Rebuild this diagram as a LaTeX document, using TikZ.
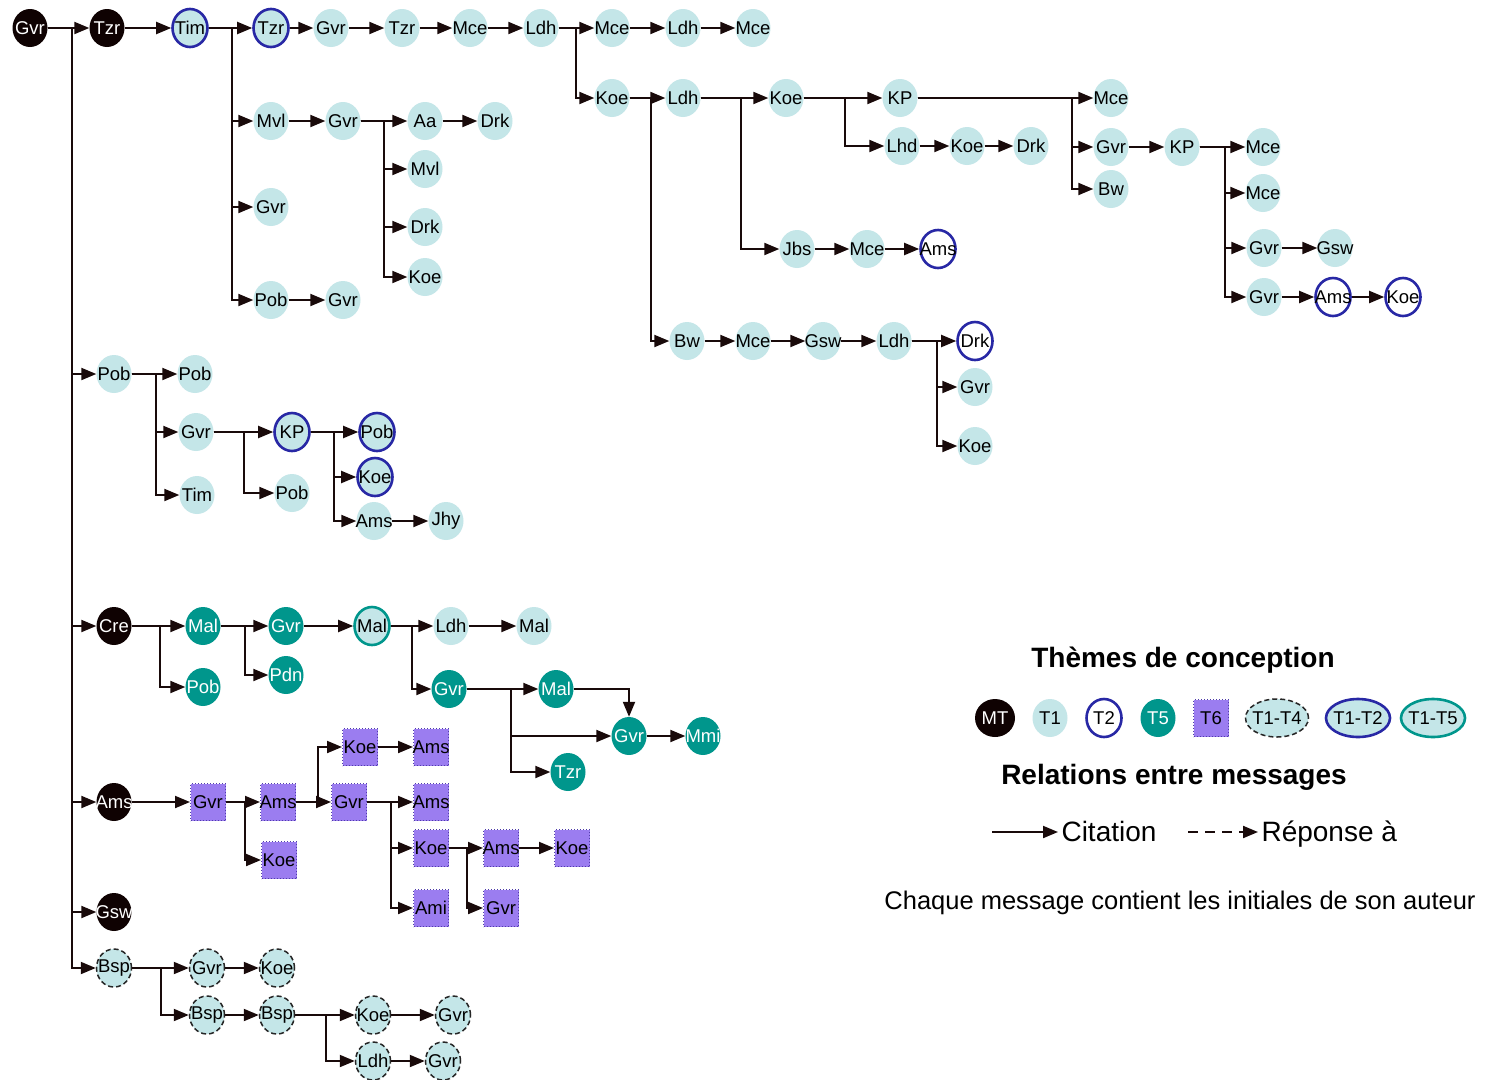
\documentclass[tikz,border=0pt]{standalone}
\usepackage{fontspec}
\setmainfont{Liberation Sans}
\usetikzlibrary{arrows.meta,shapes.geometric}
\definecolor{tonec}{RGB}{196,230,232}
\definecolor{bluec}{RGB}{40,40,165}
\definecolor{tealc}{RGB}{0,150,140}
\definecolor{purplec}{RGB}{155,125,240}
\definecolor{purpled}{RGB}{80,60,170}
\definecolor{mtc}{RGB}{15,2,2}
\definecolor{linec}{RGB}{25,10,10}
\newcommand\mynodefont{\fontsize{18.5}{20}\selectfont}
\newcommand\mybranch[3]{\draw[arr] (#1.east) -- (#1.east -| #2) |- (#3.west);}
\newcommand\mylink[2]{\draw[arr] (#1) -- (#2);}
\tikzset{
  base/.style={ellipse, minimum width=35pt, minimum height=38pt, inner xsep=-12pt, inner ysep=-8pt, font=\mynodefont},
  mt/.style={base, fill=mtc, text=white},
  tone/.style={base, fill=tonec},
  ttwo/.style={base, fill=white, draw=bluec, line width=2.6pt},
  tonetwo/.style={base, fill=tonec, draw=bluec, line width=2.6pt},
  tfive/.style={base, fill=tealc, text=white},
  tonefive/.style={base, fill=tonec, draw=tealc, line width=2.6pt},
  tonefour/.style={base, fill=tonec, draw=black!85, dash pattern=on 5pt off 3pt, line width=1.5pt},
  tsix/.style={rectangle, minimum width=35pt, minimum height=37pt, inner xsep=-3pt, inner ysep=0pt, fill=purplec, draw=purpled, dotted, line width=1pt, font=\mynodefont},
  arr/.style={line width=2pt, draw=linec, -{Triangle[length=15pt,width=12pt]}},
  legtitle/.style={font=\bfseries\fontsize{28}{30}\selectfont},
  legtext/.style={font=\fontsize{28}{30}\selectfont, anchor=base west},
}
\begin{document}
\begin{tikzpicture}[x=1pt,y=-1pt]
\useasboundingbox (0,0) rectangle (1487,1079);
\fill[white] (0,0) rectangle (1487,1079);
% junction coordinates (x only matters)
\coordinate (jT) at (72,0);
\coordinate (jA) at (232,0);
\coordinate (jB) at (384,0);
\coordinate (jC) at (576,0);
\coordinate (jD) at (651,0);
\coordinate (jE) at (741,0);
\coordinate (jF) at (845,0);
\coordinate (jG) at (1072,0);
\coordinate (jH) at (1225,0);
\coordinate (jI) at (937,0);
\coordinate (jJ) at (156,0);
\coordinate (jK) at (244,0);
\coordinate (jL) at (334,0);
\coordinate (jM) at (160,0);
\coordinate (jN) at (245,0);
\coordinate (jO) at (412,0);
\coordinate (jP) at (511,0);
\coordinate (jQ) at (245,0);
\coordinate (jR) at (318,0);
\coordinate (jS) at (391,0);
\coordinate (jU) at (467,0);
\coordinate (jV) at (161,0);
\coordinate (jW) at (326,0);

% row 1
\node[mt] (gvr0) at (30,28) {Gvr};
\node[mt] (tzr0) at (107,28) {Tzr};
\node[tonetwo] (tim0) at (190,28) {Tim};
\node[tonetwo] (tzr1) at (271,28) {Tzr};
\node[tone] (gvr1) at (331,28) {Gvr};
\node[tone] (tzr2) at (402,28) {Tzr};
\node[tone] (mce1) at (470,28) {Mce};
\node[tone] (ldh1) at (541,28) {Ldh};
\node[tone] (mce2) at (612,28) {Mce};
\node[tone] (ldh2) at (683,28) {Ldh};
\node[tone] (mce3) at (753,28) {Mce};
% Tim branch
\node[tone] (mvl1) at (271,121) {Mvl};
\node[tone] (gvr2) at (271,207) {Gvr};
\node[tone] (pob1) at (271,300) {Pob};
\node[tone] (gvr3) at (343,121) {Gvr};
\node[tone] (gvr4) at (343,300) {Gvr};
\node[tone] (aa1) at (425,121) {Aa};
\node[tone] (drk1) at (495,121) {Drk};
\node[tone] (mvl2) at (425,169) {Mvl};
\node[tone] (drk2) at (425,227) {Drk};
\node[tone] (koe1) at (425,277) {Koe};
% Koe branch
\node[tone] (koe2) at (612,98) {Koe};
\node[tone] (ldh3) at (683,98) {Ldh};
\node[tone] (koe3) at (786,98) {Koe};
\node[tone] (kp1) at (900,98) {KP};
\node[tone] (lhd1) at (902,146) {Lhd};
\node[tone] (koe4) at (967,146) {Koe};
\node[tone] (drk3) at (1031,146) {Drk};
\node[tone] (mce4) at (1111,98) {Mce};
\node[tone] (gvr5) at (1111,147) {Gvr};
\node[tone] (bw2) at (1111,189) {Bw};
\node[tone] (kp2) at (1182,147) {KP};
\node[tone] (mce5) at (1263,147) {Mce};
\node[tone] (mce6) at (1263,193) {Mce};
\node[tone] (gvr6) at (1264,248) {Gvr};
\node[tone] (gvr7) at (1264,297) {Gvr};
\node[tone] (gsw1) at (1335,248) {Gsw};
\node[ttwo] (ams1) at (1333,297) {Ams};
\node[ttwo] (koe5) at (1403,297) {Koe};
\node[tone] (jbs1) at (797,249) {Jbs};
\node[tone] (mce7) at (867,249) {Mce};
\node[ttwo] (ams2) at (938,249) {Ams};
\node[tone] (bw1) at (687,341) {Bw};
\node[tone] (mce8) at (753,341) {Mce};
\node[tone] (gsw2) at (823,341) {Gsw};
\node[tone] (ldh4) at (894,341) {Ldh};
\node[ttwo] (drk4) at (975,341) {Drk};
\node[tone] (gvr8) at (975,387) {Gvr};
\node[tone] (koe6) at (975,446) {Koe};
% Pob section
\node[tone] (pob2) at (114,374) {Pob};
\node[tone] (pob3) at (195,374) {Pob};
\node[tone] (gvr9) at (196,432) {Gvr};
\node[tone] (tim1) at (197,495) {Tim};
\node[tonetwo] (kp3) at (292,432) {KP};
\node[tone] (pob4) at (292,493) {Pob};
\node[tonetwo] (pob5) at (377,432) {Pob};
\node[tonetwo] (koe7) at (375,477) {Koe};
\node[tone] (ams3) at (374,521) {Ams};
\node[tone] (jhy1) at (446,521) {Jhy};
% Cre section
\node[mt] (cre0) at (114,626) {Cre};
\node[tfive] (mal1) at (203,626) {Mal};
\node[tfive] (pob6) at (203,687) {Pob};
\node[tfive] (gvr10) at (286,626) {Gvr};
\node[tfive] (pdn1) at (286,675) {Pdn};
\node[tonefive] (mal2) at (372,626) {Mal};
\node[tone] (ldh5) at (451,626) {Ldh};
\node[tone] (mal3) at (534,626) {Mal};
\node[tfive] (gvr11) at (449,689) {Gvr};
\node[tfive] (mal4) at (556,689) {Mal};
\node[tfive] (gvr12) at (629,736) {Gvr};
\node[tfive] (mmi1) at (703,736) {Mmi};
\node[tfive] (tzr3) at (568,772) {Tzr};
% Ams section
\node[mt] (ams0) at (114,802) {Ams};
\node[tsix] (gvr13) at (208,802) {Gvr};
\node[tsix] (ams4) at (278,802) {Ams};
\node[tsix] (koe8) at (279,860) {Koe};
\node[tsix] (koe9) at (360,747) {Koe};
\node[tsix] (ams5) at (431,747) {Ams};
\node[tsix] (gvr14) at (349,802) {Gvr};
\node[tsix] (ams6) at (431,802) {Ams};
\node[tsix] (koe10) at (431,848) {Koe};
\node[tsix] (ami1) at (431,908) {Ami};
\node[tsix] (ams7) at (501,848) {Ams};
\node[tsix] (koe11) at (572,848) {Koe};
\node[tsix] (gvr15) at (501,908) {Gvr};
% Gsw
\node[mt] (gsw0) at (114,912) {Gsw};
% Bsp section
\node[tonefour] (bsp1) at (114,968) {Bsp};
\node[tonefour] (gvr16) at (207,968) {Gvr};
\node[tonefour] (koe12) at (277,968) {Koe};
\node[tonefour] (bsp2) at (207,1015) {Bsp};
\node[tonefour] (bsp3) at (277,1015) {Bsp};
\node[tonefour] (koe13) at (373,1015) {Koe};
\node[tonefour] (gvr17) at (453,1015) {Gvr};
\node[tonefour] (ldh6) at (373,1061) {Ldh};
\node[tonefour] (gvr18) at (443,1061) {Gvr};

% connectors: trunk
\mybranch{gvr0}{jT}{tzr0}
\mybranch{gvr0}{jT}{pob2}
\mybranch{gvr0}{jT}{cre0}
\mybranch{gvr0}{jT}{ams0}
\mybranch{gvr0}{jT}{gsw0}
\mybranch{gvr0}{jT}{bsp1}
% row 1
\mylink{tzr0}{tim0}
\mybranch{tim0}{jA}{tzr1}
\mybranch{tim0}{jA}{mvl1}
\mybranch{tim0}{jA}{gvr2}
\mybranch{tim0}{jA}{pob1}
\mylink{tzr1}{gvr1}
\mylink{gvr1}{tzr2}
\mylink{tzr2}{mce1}
\mylink{mce1}{ldh1}
\mybranch{ldh1}{jC}{mce2}
\mybranch{ldh1}{jC}{koe2}
\mylink{mce2}{ldh2}
\mylink{ldh2}{mce3}
% Tim branch
\mylink{mvl1}{gvr3}
\mylink{pob1}{gvr4}
\mybranch{gvr3}{jB}{aa1}
\mybranch{gvr3}{jB}{mvl2}
\mybranch{gvr3}{jB}{drk2}
\mybranch{gvr3}{jB}{koe1}
\mylink{aa1}{drk1}
% Koe branch
\mybranch{koe2}{jD}{ldh3}
\mybranch{koe2}{jD}{bw1}
\mybranch{ldh3}{jE}{koe3}
\mybranch{ldh3}{jE}{jbs1}
\mybranch{koe3}{jF}{kp1}
\mybranch{koe3}{jF}{lhd1}
\mylink{lhd1}{koe4}
\mylink{koe4}{drk3}
\mybranch{kp1}{jG}{mce4}
\mybranch{kp1}{jG}{gvr5}
\mybranch{kp1}{jG}{bw2}
\mylink{gvr5}{kp2}
\mybranch{kp2}{jH}{mce5}
\mybranch{kp2}{jH}{mce6}
\mybranch{kp2}{jH}{gvr6}
\mybranch{kp2}{jH}{gvr7}
\mylink{gvr6}{gsw1}
\mylink{gvr7}{ams1}
\mylink{ams1}{koe5}
\mylink{jbs1}{mce7}
\mylink{mce7}{ams2}
\mylink{bw1}{mce8}
\mylink{mce8}{gsw2}
\mylink{gsw2}{ldh4}
\mybranch{ldh4}{jI}{drk4}
\mybranch{ldh4}{jI}{gvr8}
\mybranch{ldh4}{jI}{koe6}
% Pob section
\mybranch{pob2}{jJ}{pob3}
\mybranch{pob2}{jJ}{gvr9}
\mybranch{pob2}{jJ}{tim1}
\mybranch{gvr9}{jK}{kp3}
\mybranch{gvr9}{jK}{pob4}
\mybranch{kp3}{jL}{pob5}
\mybranch{kp3}{jL}{koe7}
\mybranch{kp3}{jL}{ams3}
\mylink{ams3}{jhy1}
% Cre section
\mybranch{cre0}{jM}{mal1}
\mybranch{cre0}{jM}{pob6}
\mybranch{mal1}{jN}{gvr10}
\mybranch{mal1}{jN}{pdn1}
\mylink{gvr10}{mal2}
\mybranch{mal2}{jO}{ldh5}
\mybranch{mal2}{jO}{gvr11}
\mylink{ldh5}{mal3}
\mybranch{gvr11}{jP}{mal4}
\mybranch{gvr11}{jP}{gvr12}
\mybranch{gvr11}{jP}{tzr3}
\draw[arr] (mal4.east) -| (gvr12.north);
\mylink{gvr12}{mmi1}
% Ams section
\mylink{ams0}{gvr13}
\mybranch{gvr13}{jQ}{ams4}
\mybranch{gvr13}{jQ}{koe8}
\mybranch{ams4}{jR}{koe9}
\mybranch{ams4}{jR}{gvr14}
\mylink{koe9}{ams5}
\mybranch{gvr14}{jS}{ams6}
\mybranch{gvr14}{jS}{koe10}
\mybranch{gvr14}{jS}{ami1}
\mybranch{koe10}{jU}{ams7}
\mybranch{koe10}{jU}{gvr15}
\mylink{ams7}{koe11}
% Bsp section
\mybranch{bsp1}{jV}{gvr16}
\mybranch{bsp1}{jV}{bsp2}
\mylink{gvr16}{koe12}
\mylink{bsp2}{bsp3}
\mybranch{bsp3}{jW}{koe13}
\mybranch{bsp3}{jW}{ldh6}
\mylink{koe13}{gvr17}
\mylink{ldh6}{gvr18}

% legend
\node[legtitle] (themes) at (1183,660) {Thèmes de conception};
\node[mt, minimum width=40pt, minimum height=38pt] (lmt) at (995,718) {MT};
\node[tone] (lt1) at (1050,718) {T1};
\node[ttwo] (lt2) at (1104,718) {T2};
\node[tfive] (lt5) at (1158,718) {T5};
\node[tsix] (lt6) at (1211,718) {T6};
\node[tonefour, minimum width=63pt, minimum height=38pt] (lt14) at (1277,718) {T1-T4};
\node[tonetwo, minimum width=64pt, minimum height=38pt] (lt12) at (1358,718) {T1-T2};
\node[tonefive, minimum width=64pt, minimum height=38pt] (lt15) at (1433,718) {T1-T5};
\node[legtitle] (relations) at (1174,777) {Relations entre messages};
\node[legtext] (cit) at (1058,841) {Citation};
\coordinate (cst) at (992,832);
\draw[arr] (cst) -- (cst -| cit.west);
\node[legtext] (rep) at (1258,841) {Réponse à};
\coordinate (rst) at (1188,832);
\draw[arr, dash pattern=on 10pt off 7pt] (rst) -- (rst -| rep.west);
\node[font=\fontsize{25.5}{28}\selectfont] (chaque) at (1180,903) {Chaque message contient les initiales de son auteur};
\end{tikzpicture}
\end{document}
